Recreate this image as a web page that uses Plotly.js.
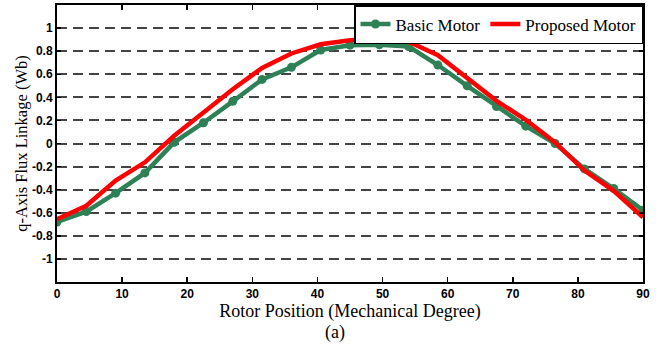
<!DOCTYPE html>
<html>
<head>
<meta charset="utf-8">
<script src="https://cdn.plot.ly/plotly-3.0.1.min.js"></script>
<style>html,body{margin:0;padding:0;background:#fff;}#chart{width:667px;height:351px;}</style>
</head>
<body>
<div id="chart"></div>
<script>
const rotorPosition = [0, 4.5, 9, 13.5, 18, 22.5, 27, 31.5, 36, 40.5, 45, 49.5, 54, 58.5, 63, 67.5, 72, 76.5, 81, 85.5, 90];
const basicMotor = [-0.68, -0.59, -0.43, -0.255, 0.01, 0.18, 0.365, 0.555, 0.66, 0.81, 0.852, 0.855, 0.84, 0.68, 0.50, 0.32, 0.15, 0.0, -0.22, -0.39, -0.578];
const proposedMotor = [-0.655, -0.54, -0.322, -0.163, 0.067, 0.27, 0.47, 0.655, 0.78, 0.86, 0.895, 0.905, 0.882, 0.765, 0.573, 0.37, 0.205, 0.01, -0.235, -0.41, -0.64];
const yTickVals = [-1, -0.8, -0.6, -0.4, -0.2, 0, 0.2, 0.4, 0.6, 0.8, 1];
const yTickText = ["-1", "-0.8", "-0.6", "-0.4", "-0.2", "0", "0.2", "0.4", "0.6", "0.8", "1"];
const xTickVals = [0, 10, 20, 30, 40, 50, 60, 70, 80, 90];

const green = "#2E8057";
const red = "#FF0000";

const traces = [
  {x: rotorPosition, y: basicMotor, name: "Basic Motor", type: "scatter", mode: "lines+markers",
   line: {color: green, width: 4.5}, marker: {color: green, size: 9}},
  {x: rotorPosition, y: proposedMotor, name: "Proposed Motor", type: "scatter", mode: "lines",
   line: {color: red, width: 4.5}}
];

const tickFont = {family: "Liberation Sans", size: 12, color: "#000", weight: "bold"};
const serif = "Liberation Serif";

const layout = {
  width: 667, height: 351,
  margin: {l: 57, r: 24, t: 5, b: 69},
  paper_bgcolor: "#fff", plot_bgcolor: "#fff",
  showlegend: true,
  legend: {orientation: "h", x: 1, xanchor: "right", y: 1, yanchor: "top",
           bgcolor: "#fff", bordercolor: "#000", borderwidth: 1.5,
           font: {family: serif, size: 17, color: "#000"}, itemwidth: 30, tracegroupgap: 0},
  xaxis: {range: [0, 90], tickvals: xTickVals, ticktext: xTickVals.map(String),
          ticks: "inside", ticklen: 5, tickwidth: 1.5, tickcolor: "#000",
          showline: true, linecolor: "#000", linewidth: 2, mirror: "ticks",
          showgrid: false, zeroline: false, tickfont: tickFont,
          title: {text: "Rotor Position (Mechanical Degree)", font: {family: serif, size: 18, color: "#000"}, standoff: 0}},
  yaxis: {range: [-1.2, 1.2], tickvals: yTickVals, ticktext: yTickText,
          ticks: "inside", ticklen: 4, tickwidth: 1.5, tickcolor: "#000",
          showline: true, linecolor: "#000", linewidth: 2, mirror: "ticks",
          showgrid: true, gridcolor: "#444", gridwidth: 2, griddash: "10px,6px",
          zeroline: false, tickfont: tickFont,
          title: {text: "q-Axis Flux Linkage (Wb)", font: {family: serif, size: 16.5, color: "#000"}, standoff: 0}},
  annotations: [{text: "(a)", xref: "paper", yref: "paper", x: 0.474, y: -0.184, xanchor: "center", yanchor: "middle",
                 showarrow: false, font: {family: serif, size: 18, color: "#000"}}]
};

Plotly.newPlot("chart", traces, layout, {displayModeBar: false, staticPlot: true});
</script>
</body>
</html>
